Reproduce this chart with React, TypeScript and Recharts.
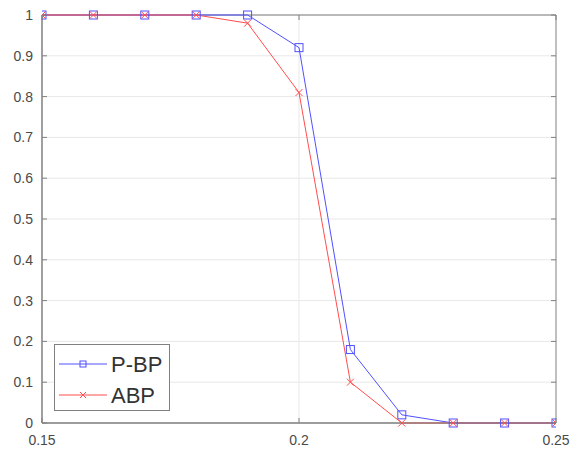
import React from 'react';
import { LineChart, Line, XAxis, YAxis, CartesianGrid, ReferenceArea } from 'recharts';

const xValues = [0.15, 0.16, 0.17, 0.18, 0.19, 0.2, 0.21, 0.22, 0.23, 0.24, 0.25];
const pbpValues = [1, 1, 1, 1, 1, 0.92, 0.18, 0.02, 0, 0, 0];
const abpValues = [1, 1, 1, 1, 0.98, 0.81, 0.1, 0, 0, 0, 0];
const xTicks = [0.15, 0.2, 0.25];
const yTicks = [0, 0.1, 0.2, 0.3, 0.4, 0.5, 0.6, 0.7, 0.8, 0.9, 1];
const seriesNames = ['P-BP', 'ABP'];

const data = xValues.map((x, i) => ({ x, pbp: pbpValues[i], abp: abpValues[i] }));

const BLUE = '#5050ff';
const RED = '#ff4d4d';
const AXIS = '#808080';
const TEXT = '#4a4a4a';
const FONT = '"Liberation Sans", Arial, sans-serif';
const TICK = 5;

const SquareDot = (props: any) => {
  const { cx, cy, index } = props;
  if (cx == null || cy == null) return <g key={index} />;
  return <rect key={index} x={cx - 4} y={cy - 4} width={8} height={8} fill="none" stroke={BLUE} strokeWidth={1} />;
};

const CrossDot = (props: any) => {
  const { cx, cy, index } = props;
  if (cx == null || cy == null) return <g key={index} />;
  return (
    <g key={index}>
      <line x1={cx - 3.5} y1={cy - 3.5} x2={cx + 3.5} y2={cy + 3.5} stroke={RED} strokeWidth={1} />
      <line x1={cx - 3.5} y1={cy + 3.5} x2={cx + 3.5} y2={cy - 3.5} stroke={RED} strokeWidth={1} />
    </g>
  );
};

const PLOT = { left: 42, right: 556, top: 15, bottom: 423 };

const BottomTick = (props: any) => {
  const { x, y, payload } = props;
  return (
    <g>
      <line x1={x} y1={PLOT.bottom} x2={x} y2={PLOT.bottom - TICK} stroke={AXIS} strokeWidth={1} />
      <line x1={x} y1={PLOT.top} x2={x} y2={PLOT.top + TICK} stroke={AXIS} strokeWidth={1} />
      <text x={x} y={y} dy="0.71em" textAnchor="middle" fill={TEXT} fontSize={14} fontFamily={FONT}>
        {String(payload.value)}
      </text>
    </g>
  );
};

const LeftTick = (props: any) => {
  const { x, y, payload } = props;
  return (
    <g>
      <line x1={PLOT.left} y1={y} x2={PLOT.left + TICK} y2={y} stroke={AXIS} strokeWidth={1} />
      <line x1={PLOT.right} y1={y} x2={PLOT.right - TICK} y2={y} stroke={AXIS} strokeWidth={1} />
      <text x={x} y={y} dy="0.355em" textAnchor="end" fill={TEXT} fontSize={14} fontFamily={FONT}>
        {String(Math.round(payload.value * 10) / 10)}
      </text>
    </g>
  );
};

const LegendBox = () => {
  const colors = [BLUE, RED];
  return (
    <svg
      width={118}
      height={69}
      style={{ position: 'absolute', left: 53, top: 343, display: 'block' }}
    >
      <rect x={1.5} y={1.5} width={115} height={66} fill="#fff" stroke={AXIS} strokeWidth={1} />
      {seriesNames.map((name, i) => {
        const cy = 21 + i * 31;
        const c = colors[i];
        return (
          <g key={name}>
            <line x1={6} y1={cy} x2={54} y2={cy} stroke={c} strokeWidth={1} />
            {i === 0 ? (
              <rect x={27} y={cy - 3} width={6} height={6} fill="none" stroke={c} />
            ) : (
              <g>
                <line x1={27} y1={cy - 3} x2={33} y2={cy + 3} stroke={c} />
                <line x1={27} y1={cy + 3} x2={33} y2={cy - 3} stroke={c} />
              </g>
            )}
            <text x={58} y={cy} dy="0.36em" fill="#333" fontSize={22} fontFamily={FONT}>
              {name}
            </text>
          </g>
        );
      })}
    </svg>
  );
};

export default function App() {
  return (
    <div style={{ position: 'absolute', left: 0, top: 0, width: 570, height: 450, background: '#fff' }}>
      <LineChart
        width={570}
        height={450}
        data={data}
        margin={{ top: PLOT.top, right: 570 - PLOT.right, bottom: 0, left: 0 }}
      >
        <CartesianGrid
          stroke="#e8e8e8"
          strokeWidth={1}
          horizontalValues={yTicks}
          verticalValues={[0.2]}
        />
        <ReferenceArea
          x1={0.15}
          x2={0.25}
          y1={0}
          y2={1}
          fill="none"
          fillOpacity={0}
          stroke={AXIS}
          strokeWidth={1}
          ifOverflow="visible"
        />
        <XAxis
          dataKey="x"
          type="number"
          domain={[0.15, 0.25]}
          ticks={xTicks}
          height={450 - PLOT.bottom}
          tickSize={0}
          tickMargin={12}
          tickLine={false}
          stroke={AXIS}
          tick={BottomTick}
          allowDataOverflow
        />
        <YAxis
          type="number"
          domain={[0, 1]}
          ticks={yTicks}
          width={PLOT.left}
          tickSize={0}
          tickMargin={9}
          tickLine={false}
          stroke={AXIS}
          tick={LeftTick}
        />
        <Line
          type="linear"
          dataKey="pbp"
          name={seriesNames[0]}
          stroke={BLUE}
          strokeWidth={1}
          dot={SquareDot}
          activeDot={false}
          isAnimationActive={false}
        />
        <Line
          type="linear"
          dataKey="abp"
          name={seriesNames[1]}
          stroke={RED}
          strokeWidth={1}
          dot={CrossDot}
          activeDot={false}
          isAnimationActive={false}
        />
      </LineChart>
      <LegendBox />
    </div>
  );
}
